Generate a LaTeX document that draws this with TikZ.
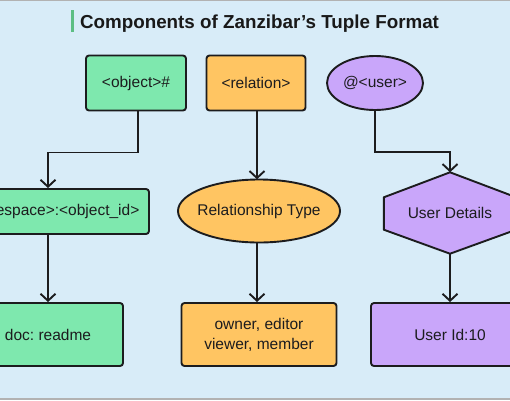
\documentclass[tikz,border=0pt]{standalone}
\usepackage{fontspec}
\setmainfont{Liberation Sans}
\usetikzlibrary{positioning, arrows.meta, shapes.geometric}
\frenchspacing

\definecolor{bgBlue}{RGB}{216,236,248}
\definecolor{objGreen}{RGB}{126,232,174}
\definecolor{relOrange}{RGB}{255,197,98}
\definecolor{usrPurple}{RGB}{201,166,250}
\definecolor{barGreen}{RGB}{92,190,132}
\definecolor{inkDark}{RGB}{28,28,30}

\tikzset{
  label font/.style={font=\fontsize{15.5}{20}\selectfont, text=inkDark},
  box/.style={draw=inkDark, line width=1.9pt, rounded corners=3pt, align=center, label font},
  oval/.style={ellipse, draw=inkDark, line width=1.9pt, inner sep=0pt, label font},
  outline/.style={draw=inkDark, line width=1.9pt, line join=round},
  link/.style={-{Straight Barb[length=7pt,width=15pt]}, line width=1.9pt, draw=inkDark},
}

\begin{document}
\begin{tikzpicture}
[x=1pt, y=1pt, node distance=120pt, on grid]

\useasboundingbox (0,0) rectangle (510,-400);
\clip (0,0) rectangle (510,-400);
\fill[bgBlue] (0,0) rectangle (510,-400);
\fill[gray!60] (0,0) rectangle (510,-1.2);
\fill[gray!60] (0,-398) rectangle (510,-400);

% title
\node[inner sep=0pt, text height=18pt, text depth=4pt, font=\bfseries\fontsize{18.8}{22}\selectfont, text=black!90]
  (title) at (259.5,-21) {Components of Zanzibar's Tuple Format};
\draw[barGreen, line width=3pt] ([xshift=-7pt]title.south west) -- ([xshift=-7pt]title.north west);

% top row
\node[box, fill=objGreen, minimum width=100pt, minimum height=55pt] (obj) at (136,-83) {<object>\#};
\node[box, fill=relOrange, minimum width=99pt, minimum height=55pt, right=120pt of obj] (rel) {<relation>};
\node[oval, fill=usrPurple, minimum width=96pt, minimum height=54pt, right=119pt of rel] (usr) {@<user>};

% middle row
\node[box, fill=objGreen, minimum width=202pt, minimum height=45pt, below left=128.5pt and 88pt of obj] (ns) {<namespace>:<object\_id>};
\node[minimum width=162pt, minimum height=63pt, inner sep=0pt, below right=128pt and 3pt of rel] (rtype) {};
\draw[outline, fill=relOrange] (rtype) ellipse [x radius=81pt, y radius=31.5pt];
\node[label font] at (rtype) {Relationship Type};
\node[minimum width=132pt, minimum height=81pt, inner sep=0pt, below right=130pt and 75pt of usr] (ud) {};
\draw[outline, fill=usrPurple]
  (ud.north) -- ([yshift=-25pt]ud.north west) -- ([yshift=24pt]ud.south west) -- (ud.south)
  -- ([yshift=24pt]ud.south east) -- ([yshift=-25pt]ud.north east) -- cycle;
\node[label font] at (ud) {User Details};

% bottom row
\node[box, fill=objGreen, minimum width=150pt, minimum height=63pt, below=123pt of ns] (doc) {doc: readme};
\node[box, fill=relOrange, minimum width=155pt, minimum height=63pt, below=123.5pt of rtype] (own) {owner, editor\\viewer, member};
\node[box, fill=usrPurple, minimum width=158pt, minimum height=63pt, below=121.5pt of ud] (uid) {User Id:10};

% connectors
\draw[link] ([xshift=2pt]obj.south) -- ++(0,-41) -| (ns.north);
\draw[link] ([xshift=1pt]rel.south) -- ([xshift=1pt]rel.south |- rtype.north);
\draw[link] (usr.south) -- ++(0,-41) -| (ud.north);
\draw[link] (ns.south) -- (doc.north);
\draw[link] ([xshift=-2pt]rtype.south) -- ([xshift=-2pt]rtype.south |- own.north);
\draw[link] (ud.south) -- (uid.north);
\end{tikzpicture}
\end{document}
